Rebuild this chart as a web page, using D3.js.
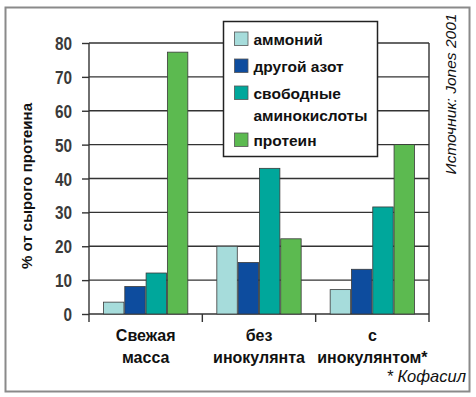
<!DOCTYPE html>
<html>
<head>
<meta charset="utf-8">
<script src="https://d3js.org/d3.v7.min.js"></script>
<style>
  body { margin: 0; background: #fff; }
  text { font-family: "Liberation Sans", Arial, Helvetica, sans-serif; }
</style>
</head>
<body>
<div id="chart"></div>
<script>
// data
var categories = [["Свежая", "масса"], ["без", "инокулянта"], ["с", "инокулянтом*"]];
var seriesNames = [["аммоний"], ["другой азот"], ["свободные", "аминокислоты"], ["протеин"]];
var ammonium = [3.5, 20, 7.2];
var otherN = [8.1, 15.2, 13.2];
var aminoAcids = [12.1, 43, 31.6];
var protein = [77.3, 22.2, 50];
var yTicks = [0, 10, 20, 30, 40, 50, 60, 70, 80];
var colors = ["#a6dcdb", "#0d4c9e", "#00a79b", "#5cba50"];

var series = [ammonium, otherN, aminoAcids, protein];

var W = 476, H = 397;
var svg = d3.select("#chart").append("svg")
    .attr("width", W)
    .attr("height", H);

// outer frame
svg.append("rect")
    .attr("x", 5.5).attr("y", 7.5)
    .attr("width", 464).attr("height", 384)
    .attr("fill", "none")
    .attr("stroke", "#8a8a8a")
    .attr("stroke-width", 2);

var pLeft = 89, pRight = 429, pTop = 43, pBottom = 314;

var x0 = d3.scaleBand()
    .domain(d3.range(categories.length))
    .range([pLeft, pRight])
    .padding(0);

var x1 = d3.scaleBand()
    .domain(d3.range(series.length))
    .range([14.5, x0.bandwidth() - 14.5])
    .paddingInner(0.04);

var y = d3.scaleLinear()
    .domain([0, 80])
    .range([pBottom, pTop]);

// gridlines
svg.append("g")
    .selectAll("line")
    .data(yTicks)
    .join("line")
    .attr("x1", pLeft).attr("x2", pRight)
    .attr("y1", function(d) { return y(d); })
    .attr("y2", function(d) { return y(d); })
    .attr("stroke", "#333")
    .attr("stroke-width", 1.4);

// right border of plot
svg.append("line")
    .attr("x1", pRight).attr("x2", pRight)
    .attr("y1", pTop).attr("y2", pBottom)
    .attr("stroke", "#333").attr("stroke-width", 1.4);

// bars
var groups = svg.append("g")
    .selectAll("g")
    .data(categories)
    .join("g")
    .attr("transform", function(d, i) { return "translate(" + x0(i) + ",0)"; });

groups.selectAll("rect")
    .data(function(d, i) { return series.map(function(s, k) { return {k: k, v: s[i]}; }); })
    .join("rect")
    .attr("x", function(d) { return x1(d.k); })
    .attr("y", function(d) { return y(d.v); })
    .attr("width", x1.bandwidth())
    .attr("height", function(d) { return y(0) - y(d.v); })
    .attr("fill", function(d) { return colors[d.k]; })
    .attr("stroke", "#3a3a3a")
    .attr("stroke-width", 0.8);

// y axis: ticks + condensed labels
var yAxis = svg.append("g")
    .attr("transform", "translate(" + pLeft + ",0)")
    .call(d3.axisLeft(y).tickValues(yTicks).tickSize(7).tickFormat(""));
yAxis.select(".domain").remove();
yAxis.selectAll(".tick line").attr("stroke", "#333").attr("stroke-width", 1.4);
yAxis.selectAll(".tick text").remove();
yAxis.selectAll(".tick")
    .append("text")
    .attr("transform", "translate(-17,6.5) scale(0.83,1)")
    .attr("text-anchor", "end")
    .attr("font-size", 18.5)
    .attr("font-weight", "bold")
    .attr("fill", "#3a3a3a")
    .text(function(d) { return d; });

svg.append("line")
    .attr("x1", pLeft).attr("x2", pLeft)
    .attr("y1", pTop).attr("y2", pBottom + 8)
    .attr("stroke", "#333").attr("stroke-width", 1.4);

// x axis ticks at category boundaries
var bounds = d3.range(1, categories.length).map(function(i) { return x0(i); }).concat([pRight]);
svg.append("g")
    .selectAll("line")
    .data(bounds)
    .join("line")
    .attr("x1", function(d) { return d; }).attr("x2", function(d) { return d; })
    .attr("y1", pBottom).attr("y2", pBottom + 8)
    .attr("stroke", "#333").attr("stroke-width", 1.4);

// category labels
var catLabels = svg.append("g")
    .selectAll("text")
    .data(categories)
    .join("text")
    .attr("text-anchor", "middle")
    .attr("font-size", 16)
    .attr("font-weight", "bold")
    .attr("fill", "#111")
    .attr("transform", function(d, i) { return "translate(" + (x0(i) + x0.bandwidth() / 2) + ",341)"; });
catLabels.selectAll("tspan")
    .data(function(d) { return d; })
    .join("tspan")
    .attr("x", 0)
    .attr("dy", function(d, i) { return i === 0 ? 0 : 22; })
    .text(function(d) { return d; });

// y label
svg.append("text")
    .attr("transform", "translate(32,186) rotate(-90)")
    .attr("text-anchor", "middle")
    .attr("font-size", 15)
    .attr("font-weight", "bold")
    .attr("fill", "#111")
    .text("% от сырого протеина");

// source
svg.append("text")
    .attr("transform", "translate(456,94) rotate(-90)")
    .attr("text-anchor", "middle")
    .attr("font-size", 15.5)
    .attr("font-style", "italic")
    .attr("fill", "#111")
    .text("Источник: Jones 2001");

// footnote
svg.append("text")
    .attr("x", 466).attr("y", 382)
    .attr("text-anchor", "end")
    .attr("font-size", 16.5)
    .attr("font-style", "italic")
    .attr("fill", "#111")
    .text("* Кофасил");

// legend
var legend = svg.append("g").attr("transform", "translate(223.5,21.5)");
legend.append("rect")
    .attr("width", 154).attr("height", 135)
    .attr("fill", "#fff")
    .attr("stroke", "#222").attr("stroke-width", 1.5);

var rowY = [17, 44, 71, 118];
var items = legend.selectAll("g")
    .data(seriesNames)
    .join("g")
    .attr("transform", function(d, i) { return "translate(0," + rowY[i] + ")"; });
items.append("rect")
    .attr("x", 11).attr("y", -6.5)
    .attr("width", 13.5).attr("height", 13.5)
    .attr("fill", function(d, i) { return colors[i]; })
    .attr("stroke", "#555").attr("stroke-width", 0.8);
items.append("text")
    .attr("y", 6)
    .attr("font-size", 15.5)
    .attr("font-weight", "bold")
    .attr("fill", "#111")
    .selectAll("tspan")
    .data(function(d) { return d; })
    .join("tspan")
    .attr("x", 30)
    .attr("dy", function(d, i) { return i === 0 ? 0 : 22; })
    .text(function(d) { return d; });
</script>
</body>
</html>
